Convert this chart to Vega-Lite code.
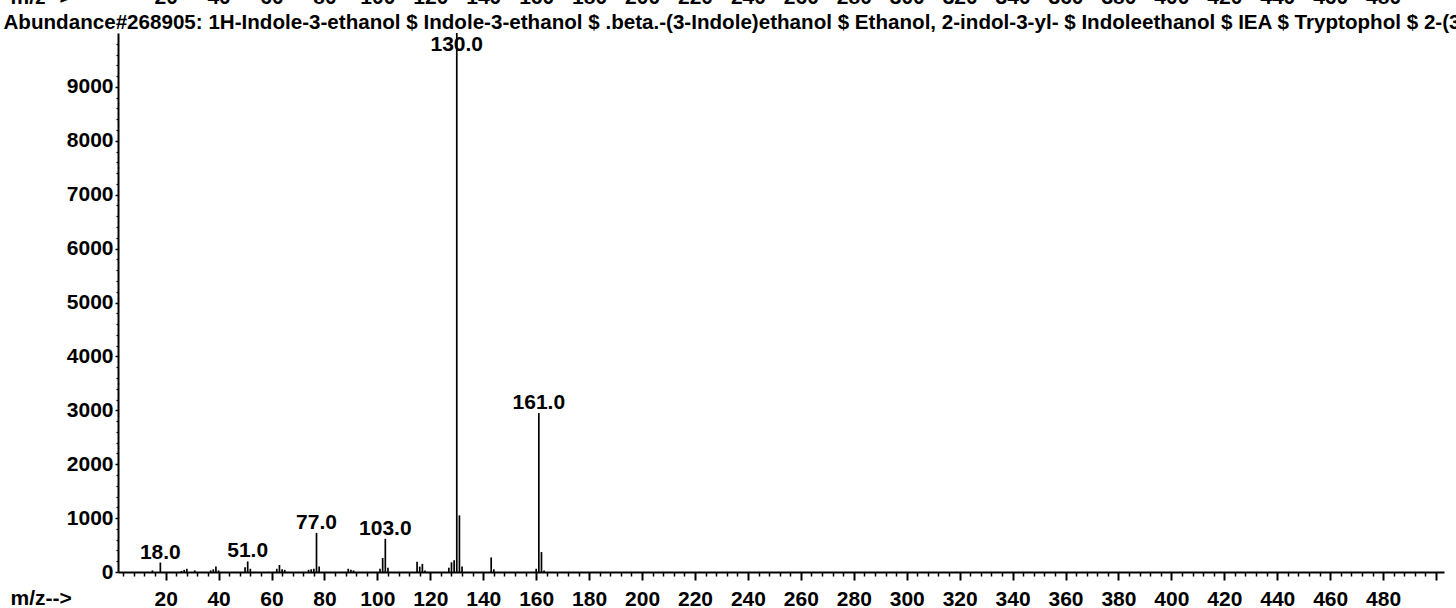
{
  "$schema": "https://vega.github.io/schema/vega-lite/v6.json",
  "autosize": {"type": "none"},
  "width": 1326,
  "height": 539,
  "padding": {"left": 118, "top": 33, "right": 12, "bottom": 36},
  "background": "white",
  "config": {
    "view": {"stroke": null},
    "font": "Liberation Sans",
    "axis": {"grid": false, "domainColor": "black", "tickColor": "black", "labelColor": "black", "titleColor": "black", "labelFont": "Liberation Sans", "titleFont": "Liberation Sans", "labelFontWeight": "bold", "titleFontWeight": "bold"}
  },
  "data": {
    "values": [
      {"mz": 15, "abundance": 30, "tag": false},
      {"mz": 18, "abundance": 175, "tag": true},
      {"mz": 26, "abundance": 20, "tag": false},
      {"mz": 27, "abundance": 40, "tag": false},
      {"mz": 28, "abundance": 60, "tag": false},
      {"mz": 31, "abundance": 30, "tag": false},
      {"mz": 37, "abundance": 30, "tag": false},
      {"mz": 38, "abundance": 50, "tag": false},
      {"mz": 39, "abundance": 100, "tag": false},
      {"mz": 40, "abundance": 30, "tag": false},
      {"mz": 50, "abundance": 90, "tag": false},
      {"mz": 51, "abundance": 195, "tag": true},
      {"mz": 52, "abundance": 60, "tag": false},
      {"mz": 62, "abundance": 60, "tag": false},
      {"mz": 63, "abundance": 130, "tag": false},
      {"mz": 64, "abundance": 50, "tag": false},
      {"mz": 65, "abundance": 40, "tag": false},
      {"mz": 74, "abundance": 40, "tag": false},
      {"mz": 75, "abundance": 50, "tag": false},
      {"mz": 76, "abundance": 60, "tag": false},
      {"mz": 77, "abundance": 725, "tag": true},
      {"mz": 78, "abundance": 100, "tag": false},
      {"mz": 89, "abundance": 60, "tag": false},
      {"mz": 90, "abundance": 40, "tag": false},
      {"mz": 91, "abundance": 30, "tag": false},
      {"mz": 101, "abundance": 60, "tag": false},
      {"mz": 102, "abundance": 260, "tag": false},
      {"mz": 103, "abundance": 615, "tag": true},
      {"mz": 104, "abundance": 80, "tag": false},
      {"mz": 115, "abundance": 190, "tag": false},
      {"mz": 116, "abundance": 100, "tag": false},
      {"mz": 117, "abundance": 150, "tag": false},
      {"mz": 118, "abundance": 30, "tag": false},
      {"mz": 127, "abundance": 80, "tag": false},
      {"mz": 128, "abundance": 180, "tag": false},
      {"mz": 129, "abundance": 220, "tag": false},
      {"mz": 130, "abundance": 9999, "tag": true},
      {"mz": 131, "abundance": 1050, "tag": false},
      {"mz": 132, "abundance": 100, "tag": false},
      {"mz": 143, "abundance": 270, "tag": false},
      {"mz": 144, "abundance": 50, "tag": false},
      {"mz": 160, "abundance": 60, "tag": false},
      {"mz": 161, "abundance": 2950, "tag": true},
      {"mz": 162, "abundance": 370, "tag": false},
      {"mz": 163, "abundance": 30, "tag": false}
    ]
  },
  "resolve": {"axis": {"x": "independent", "y": "independent"}},
  "layer": [
    {
      "mark": {"type": "rule", "color": "black", "strokeWidth": 1.7},
      "encoding": {
        "x": {"field": "mz", "type": "quantitative", "scale": {"domain": [2, 503], "nice": false, "zero": false},
          "axis": {"orient": "bottom", "values": [20, 40, 60, 80, 100, 120, 140, 160, 180, 200, 220, 240, 260, 280, 300, 320, 340, 360, 380, 400, 420, 440, 460, 480, 500],
            "labelExpr": "datum.value == 500 ? '' : datum.label", "tickSize": 8, "tickWidth": 2, "domainWidth": 2, "labelFontSize": 21, "labelPadding": 8, "labelFlush": false, "labelOverlap": false,
            "title": "m/z-->", "titleFontSize": 21, "titleX": -108, "titleY": 32, "titleAlign": "left", "titleBaseline": "alphabetic", "titleAnchor": null}},
        "y": {"field": "abundance", "type": "quantitative", "scale": {"domain": [0, 10000], "nice": false},
          "axis": {"orient": "left", "values": [0, 1000, 2000, 3000, 4000, 5000, 6000, 7000, 8000, 9000], "format": "d", "tickSize": 3, "tickWidth": 1.5, "domainWidth": 2, "labelFontSize": 21, "labelPadding": 2, "labelFlush": false, "labelOverlap": false,
            "title": "m/z-->", "titleFontSize": 21, "titleAngle": 0, "titleX": -108, "titleY": -30, "titleAlign": "left", "titleBaseline": "alphabetic", "titleAnchor": null}},
        "y2": {"datum": 0}
      }
    },
    {
      "mark": {"type": "rule", "color": "black", "strokeWidth": 0},
      "encoding": {
        "x": {"field": "mz", "type": "quantitative",
          "axis": {"orient": "bottom", "values": [4, 8, 12, 16, 24, 28, 32, 36, 44, 48, 52, 56, 64, 68, 72, 76, 84, 88, 92, 96, 104, 108, 112, 116, 124, 128, 132, 136, 144, 148, 152, 156, 164, 168, 172, 176, 184, 188, 192, 196, 204, 208, 212, 216, 224, 228, 232, 236, 244, 248, 252, 256, 264, 268, 272, 276, 284, 288, 292, 296, 304, 308, 312, 316, 324, 328, 332, 336, 344, 348, 352, 356, 364, 368, 372, 376, 384, 388, 392, 396, 404, 408, 412, 416, 424, 428, 432, 436, 444, 448, 452, 456, 464, 468, 472, 476, 484, 488, 492, 496],
            "tickSize": 4, "tickWidth": 1.5, "labels": false, "domain": false, "title": null}},
        "y": {"field": "abundance", "type": "quantitative",
          "axis": {"orient": "left", "values": [200, 400, 600, 800, 1200, 1400, 1600, 1800, 2200, 2400, 2600, 2800, 3200, 3400, 3600, 3800, 4200, 4400, 4600, 4800, 5200, 5400, 5600, 5800, 6200, 6400, 6600, 6800, 7200, 7400, 7600, 7800, 8200, 8400, 8600, 8800, 9200, 9400, 9600, 9800],
            "tickSize": 2, "tickWidth": 1.2, "labels": false, "domain": false, "title": null}}
      }
    },
    {
      "transform": [{"filter": "datum.tag && datum.abundance < 9000"}],
      "mark": {"type": "text", "color": "black", "font": "Liberation Sans", "fontWeight": "bold", "fontSize": 21, "baseline": "alphabetic", "align": "center", "dy": -4},
      "encoding": {
        "x": {"field": "mz", "type": "quantitative",
          "axis": {"orient": "top", "values": [20, 40, 60, 80, 100, 120, 140, 160, 180, 200, 220, 240, 260, 280, 300, 320, 340, 360, 380, 400, 420, 440, 460, 480],
            "ticks": false, "tickSize": 0, "domain": false, "labelFontSize": 21, "labelPadding": 30, "labelBaseline": "alphabetic", "labelFlush": false, "labelOverlap": false,
            "title": "Abundance#268905: 1H-Indole-3-ethanol $ Indole-3-ethanol $ .beta.-(3-Indole)ethanol $ Ethanol, 2-indol-3-yl- $ Indoleethanol $ IEA $ Tryptophol $ 2-(3-",
            "titleFontSize": 20.6, "titleX": -115, "titleY": -5, "titleAlign": "left", "titleBaseline": "alphabetic", "titleAnchor": null, "titleLimit": 3000}},
        "y": {"field": "abundance", "type": "quantitative", "axis": null},
        "text": {"field": "mz", "type": "quantitative", "format": ".1f"}
      }
    },
    {
      "transform": [{"filter": "datum.tag && datum.abundance >= 9000"}],
      "mark": {"type": "text", "color": "black", "font": "Liberation Sans", "fontWeight": "bold", "fontSize": 21, "baseline": "alphabetic", "align": "center", "dy": 18},
      "encoding": {
        "x": {"field": "mz", "type": "quantitative", "axis": null},
        "y": {"field": "abundance", "type": "quantitative", "axis": null},
        "text": {"field": "mz", "type": "quantitative", "format": ".1f"}
      }
    }
  ]
}
